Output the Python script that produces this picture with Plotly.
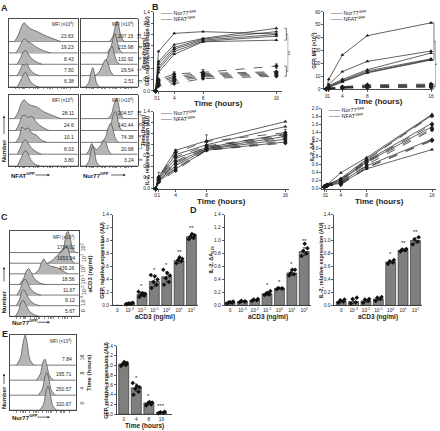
import plotly.graph_objects as go

W, H = 440, 431
FONT = "Liberation Sans, Arial, sans-serif"
INK = "#1e1e1e"
BAR_FILL = "#7f7f7f"
HIST_FILL = "#b5b5b5"

# ---------------- Panel B data ----------------
TIME = [0, 1, 4, 8, 16]
TIME_LABELS = ["0", "1", "4", "8", "16"]
TIME_POWER = 1.35  # the time axis of panel B is drawn on a power scale

GFP_REL_NUR77 = [
    [0, 0.70, 1.02, 1.05, 1.01],
    [0, 0.52, 0.82, 0.93, 1.11],
    [0, 0.48, 0.77, 0.92, 1.05],
    [0, 0.42, 0.74, 0.90, 1.00],
    [0, 0.38, 0.70, 0.88, 0.97],
    [0, 0.33, 0.65, 0.87, 0.90],
]
GFP_REL_NFAT = [
    [0, 0.20, 0.30, 0.33, 0.44],
    [0, 0.18, 0.26, 0.31, 0.34],
    [0, 0.16, 0.23, 0.29, 0.32],
    [0, 0.13, 0.20, 0.27, 0.30],
    [0, 0.11, 0.17, 0.25, 0.28],
    [0, 0.09, 0.13, 0.22, 0.26],
]
GFP_REL_NFAT_SD = [0, 0.03, 0.04, 0.05, 0.04]

GFP_MFI_NUR77 = [
    [0, 7.5, 26.5, 41.5, 51.5],
    [0, 3.5, 13.5, 21.5, 29.5],
    [0, 2.5, 7.5, 15.0, 28.0],
    [0, 2.0, 6.5, 14.0, 23.5],
    [0, 1.5, 6.0, 13.0, 23.0],
    [0, 1.0, 5.5, 12.5, 22.5],
]
GFP_MFI_NFAT = [
    [0, 0.6, 1.8, 3.2, 3.8],
    [0, 0.5, 1.5, 2.6, 3.2],
    [0, 0.4, 1.2, 2.2, 2.8],
    [0, 0.3, 1.0, 1.8, 2.2],
    [0, 0.3, 0.8, 1.4, 1.8],
    [0, 0.2, 0.6, 1.0, 1.4],
]

IL2_REL_NUR77 = [
    [0, 0.22, 0.70, 0.87, 1.22],
    [0, 0.20, 0.62, 0.80, 1.13],
    [0, 0.18, 0.55, 0.75, 1.00],
    [0, 0.16, 0.48, 0.73, 0.95],
    [0, 0.15, 0.42, 0.72, 0.90],
    [0, 0.14, 0.36, 0.70, 0.85],
]
IL2_REL_NFAT = [
    [0, 0.21, 0.66, 0.86, 1.02],
    [0, 0.19, 0.58, 0.78, 0.98],
    [0, 0.17, 0.50, 0.76, 0.96],
    [0, 0.16, 0.45, 0.74, 0.92],
    [0, 0.14, 0.38, 0.71, 0.87],
    [0, 0.12, 0.33, 0.70, 0.83],
]
IL2_REL_SD = [0, 0.09, 0.05, 0.12, 0.06]

IL2_DA_NUR77 = [
    [0.06, 0.10, 0.40, 0.78, 1.86],
    [0.05, 0.09, 0.26, 0.74, 1.84],
    [0.06, 0.11, 0.22, 0.70, 1.64],
    [0.07, 0.10, 0.20, 0.67, 1.55],
    [0.05, 0.08, 0.17, 0.57, 1.24],
    [0.04, 0.08, 0.14, 0.50, 0.98],
]
IL2_DA_NFAT = [
    [0.06, 0.10, 0.24, 0.72, 1.82],
    [0.05, 0.09, 0.20, 0.68, 1.60],
    [0.06, 0.09, 0.16, 0.65, 1.50],
    [0.05, 0.08, 0.13, 0.60, 1.47],
    [0.04, 0.07, 0.12, 0.54, 1.22],
    [0.04, 0.07, 0.10, 0.52, 1.20],
]

# ---------------- Bar panel data ----------------
ACD3_LABELS = ["0", "10<sup>-3</sup>", "10<sup>-2</sup>", "10<sup>-1</sup>",
               "10<sup>0</sup>", "10<sup>1</sup>", "10<sup>2</sup>"]

C_MEAN = [0.0, 0.03, 0.17, 0.37, 0.44, 0.69, 1.06]
C_SD = [0.0, 0.01, 0.03, 0.08, 0.08, 0.04, 0.03]
C_REPS = [[], [0.02, 0.03, 0.03, 0.04, 0.03, 0.02],
          [0.13, 0.15, 0.17, 0.18, 0.19, 0.21],
          [0.27, 0.32, 0.36, 0.40, 0.45, 0.47],
          [0.32, 0.36, 0.42, 0.46, 0.50, 0.55],
          [0.65, 0.68, 0.70, 0.72, 0.74],
          [1.02, 1.04, 1.06, 1.08, 1.10]]
C_STARS = ["", "", "*", "*", "*", "**", "**"]

D1_MEAN = [0.05, 0.06, 0.08, 0.18, 0.26, 0.50, 0.83]
D1_SD = [0.01, 0.01, 0.01, 0.03, 0.01, 0.04, 0.06]
D1_REPS = [[0.03, 0.04, 0.05, 0.06, 0.05],
           [0.05, 0.06, 0.07, 0.06],
           [0.07, 0.08, 0.09, 0.10],
           [0.16, 0.17, 0.18, 0.22, 0.19],
           [0.25, 0.26, 0.27, 0.26],
           [0.46, 0.48, 0.50, 0.55, 0.55],
           [0.76, 0.80, 0.84, 0.88, 0.95]]
D1_STARS = ["", "", "", "*", "*", "*", "**"]

D2_MEAN = [0.06, 0.06, 0.07, 0.10, 0.67, 0.85, 1.00]
D2_SD = [0.02, 0.03, 0.02, 0.02, 0.02, 0.02, 0.04]
D2_REPS = [[0.04, 0.06, 0.08, 0.09],
           [0.03, 0.05, 0.10, 0.12],
           [0.04, 0.07, 0.09, 0.10],
           [0.07, 0.10, 0.12, 0.13],
           [0.64, 0.66, 0.68, 0.70],
           [0.83, 0.85, 0.86, 0.87],
           [0.94, 0.98, 1.02, 1.05]]
D2_STARS = ["", "", "", "", "*", "**", "**"]

E_TIME_LABELS = ["0", "4", "8", "16"]
E_MEAN = [1.03, 0.54, 0.23, 0.04]
E_SD = [0.03, 0.08, 0.03, 0.01]
E_REPS = [[0.99, 1.01, 1.03, 1.05, 1.07],
          [0.40, 0.46, 0.52, 0.55, 0.58, 0.64],
          [0.18, 0.20, 0.22, 0.24, 0.25],
          [0.02, 0.03, 0.04, 0.05]]
E_STARS = ["", "*", "*", "***"]

# ---------------- Histogram data (rows top -> bottom) ----------------
# each histogram: (positions across the box 0..1, heights in row units)
A_TIME_ROWS = ["16", "8", "4", "1", "0"]
A1_MFI = ["23.83", "19.23", "8.43", "7.50", "6.38"]
A1_HIST = [
    ([0.08, 0.13, 0.18, 0.22, 0.26, 0.32, 0.40, 0.50, 0.62, 0.75], [0, 0.5, 1.3, 1.65, 1.4, 1.1, 0.9, 0.6, 0.3, 0]),
    ([0.10, 0.15, 0.20, 0.23, 0.27, 0.32, 0.40, 0.50, 0.60], [0, 0.5, 1.1, 1.25, 1.0, 0.85, 0.5, 0.2, 0]),
    ([0.12, 0.17, 0.21, 0.24, 0.28, 0.33, 0.40, 0.48], [0, 0.6, 1.1, 1.2, 0.9, 0.5, 0.2, 0]),
    ([0.12, 0.17, 0.20, 0.23, 0.26, 0.30, 0.36, 0.44], [0, 0.6, 1.0, 0.9, 1.05, 0.6, 0.2, 0]),
    ([0.12, 0.17, 0.21, 0.24, 0.27, 0.31, 0.37, 0.44], [0, 0.6, 1.1, 1.3, 1.0, 0.5, 0.15, 0]),
]
A2_MFI = ["297.15", "215.98", "132.92", "29.54", "2.51"]
A2_HIST = [
    ([0.50, 0.56, 0.61, 0.64, 0.67, 0.71, 0.76], [0, 0.4, 1.4, 1.8, 1.3, 0.4, 0]),
    ([0.46, 0.52, 0.57, 0.60, 0.63, 0.68, 0.73], [0, 0.4, 1.3, 1.7, 1.2, 0.3, 0]),
    ([0.40, 0.46, 0.51, 0.55, 0.58, 0.63, 0.68], [0, 0.5, 1.3, 1.6, 1.1, 0.3, 0]),
    ([0.25, 0.32, 0.38, 0.43, 0.47, 0.52, 0.58], [0, 0.3, 0.9, 1.4, 1.2, 0.4, 0]),
    ([0.08, 0.14, 0.18, 0.21, 0.24, 0.28, 0.33], [0, 0.4, 1.3, 1.7, 1.2, 0.3, 0]),
]
A3_MFI = ["28.11", "24.6", "10.1", "8.03", "3.80"]
A3_HIST = [
    ([0.08, 0.13, 0.18, 0.22, 0.27, 0.33, 0.40, 0.50, 0.62, 0.75], [0, 0.5, 1.3, 1.6, 1.3, 1.1, 1.0, 0.6, 0.3, 0]),
    ([0.10, 0.15, 0.19, 0.23, 0.28, 0.33, 0.40, 0.48, 0.58], [0, 0.6, 1.2, 1.3, 1.1, 1.2, 0.7, 0.3, 0]),
    ([0.10, 0.15, 0.19, 0.23, 0.28, 0.33, 0.40, 0.47, 0.55], [0, 0.5, 1.3, 1.1, 1.2, 0.8, 0.6, 0.2, 0]),
    ([0.12, 0.17, 0.21, 0.24, 0.28, 0.33, 0.40, 0.47], [0, 0.6, 1.1, 1.2, 0.9, 0.5, 0.2, 0]),
    ([0.12, 0.17, 0.21, 0.24, 0.28, 0.32, 0.38, 0.45], [0, 0.6, 1.1, 1.3, 1.0, 0.5, 0.15, 0]),
]
A4_MFI = ["204.57", "140.44", "74.38", "20.68", "3.24"]
A4_HIST = [
    ([0.48, 0.54, 0.59, 0.63, 0.66, 0.70, 0.75], [0, 0.4, 1.3, 1.7, 1.3, 0.4, 0]),
    ([0.46, 0.52, 0.57, 0.61, 0.64, 0.68, 0.73], [0, 0.4, 1.3, 1.6, 1.2, 0.3, 0]),
    ([0.36, 0.43, 0.48, 0.52, 0.56, 0.61, 0.66], [0, 0.4, 1.2, 1.6, 1.2, 0.3, 0]),
    ([0.10, 0.15, 0.19, 0.23, 0.28, 0.34, 0.40, 0.44, 0.48, 0.53], [0, 0.4, 0.9, 0.6, 0.4, 0.7, 1.1, 1.0, 0.4, 0]),
    ([0.08, 0.14, 0.18, 0.21, 0.24, 0.28, 0.33], [0, 0.4, 1.3, 1.7, 1.2, 0.3, 0]),
]
C_DOSE_ROWS = ["10<sup>2</sup>", "10<sup>1</sup>", "10<sup>0</sup>", "10<sup>-1</sup>",
               "10<sup>-2</sup>", "10<sup>-3</sup>", "0"]
C_MFI = ["1714.02", "1653.94", "439.26", "18.56", "11.67", "9.12", "5.67"]
C_HIST = [
    ([0.72, 0.78, 0.81, 0.84, 0.87, 0.91, 0.95], [0, 0.5, 1.6, 2.0, 1.5, 0.4, 0]),
    ([0.55, 0.62, 0.68, 0.73, 0.77, 0.80, 0.84, 0.88, 0.93], [0, 0.3, 0.7, 1.0, 1.2, 1.6, 1.4, 0.5, 0]),
    ([0.36, 0.42, 0.46, 0.49, 0.53, 0.60, 0.68, 0.76, 0.84], [0, 0.4, 1.1, 1.4, 1.0, 0.7, 0.6, 0.3, 0]),
    ([0.14, 0.20, 0.24, 0.27, 0.31, 0.36, 0.43, 0.50], [0, 0.6, 1.3, 1.5, 1.1, 0.5, 0.15, 0]),
    ([0.10, 0.15, 0.19, 0.22, 0.26, 0.31, 0.38, 0.45], [0, 0.6, 1.3, 1.5, 1.1, 0.5, 0.15, 0]),
    ([0.09, 0.14, 0.17, 0.20, 0.24, 0.29, 0.36, 0.43], [0, 0.6, 1.3, 1.5, 1.1, 0.5, 0.15, 0]),
    ([0.08, 0.13, 0.16, 0.19, 0.23, 0.28, 0.35, 0.42], [0, 0.6, 1.3, 1.5, 1.1, 0.5, 0.15, 0]),
]
E_TIME_ROWS = ["16", "8", "4", "0"]
E_MFI = ["7.84", "195.71", "250.57", "320.67"]
E_HIST = [
    ([0.10, 0.16, 0.20, 0.23, 0.26, 0.30, 0.36], [0, 0.5, 1.5, 2.0, 1.5, 0.4, 0]),
    ([0.40, 0.46, 0.50, 0.53, 0.56, 0.60, 0.66], [0, 0.4, 1.2, 1.4, 1.0, 0.3, 0]),
    ([0.43, 0.49, 0.53, 0.56, 0.59, 0.63, 0.69], [0, 0.4, 1.2, 1.5, 1.1, 0.3, 0]),
    ([0.45, 0.51, 0.55, 0.58, 0.61, 0.65, 0.71], [0, 0.4, 1.3, 1.6, 1.1, 0.3, 0]),
]

# ---------------- style constants ----------------
JITTER = [-0.22, 0.18, -0.08, 0.26, 0.04, -0.28, 0.12]
HIST_TICKS = [0.10, 0.16, 0.19, 0.21, 0.23, 0.30, 0.36, 0.39, 0.41, 0.43, 0.50, 0.56, 0.59, 0.61, 0.63,
              0.70, 0.76, 0.79, 0.81, 0.83, 0.90]
TICK_SIZE = 4.8

fig = go.Figure()
axes_layout = {}
annotations = []
shapes = []
n_axes = 0


def px(xp):
    return xp / W


def py(yp):
    return 1 - yp / H


def font(size):
    return dict(family=FONT, size=size, color=INK)


def add_axes(x0, x1, y0, y1, xa, ya):
    global n_axes
    n_axes += 1
    s = "" if n_axes == 1 else str(n_axes)
    xa = dict(xa)
    ya = dict(ya)
    xa.update(domain=[x0 / W, x1 / W], anchor="y" + s)
    ya.update(domain=[1 - y1 / H, 1 - y0 / H], anchor="x" + s)
    axes_layout["xaxis" + s] = xa
    axes_layout["yaxis" + s] = ya
    return "x" + s, "y" + s


def line_axis(**kw):
    d = dict(showline=True, linecolor=INK, linewidth=0.8, ticks="outside", ticklen=2,
             tickwidth=0.7, tickcolor=INK, showgrid=False, zeroline=False, tickangle=0,
             tickfont=font(TICK_SIZE), fixedrange=True)
    d.update(kw)
    return d


def text(xp, yp, s, size, angle=0, xanchor="center", yanchor="middle", bold=False, xref="paper", yref="paper"):
    annotations.append(dict(
        x=xp, y=yp, xref=xref, yref=yref, text=("<b>%s</b>" % s) if bold else s,
        showarrow=False, textangle=angle, xanchor=xanchor, yanchor=yanchor,
        font=font(size)))


def arrow(x_head, y_head, ax, ay):
    annotations.append(dict(x=px(x_head), y=py(y_head), xref="paper", yref="paper", text="",
                            showarrow=True, ax=ax, ay=ay, arrowhead=2, arrowsize=0.7,
                            arrowwidth=0.7, arrowcolor=INK))


def tpos(t):
    return t ** TIME_POWER


def b_chart(x_axis, x_t0, x_t16, x_end, y_top, y_bot, ymax, dtick, yfmt, ytitle, ytitle_x,
            nur, nfat, sd=None):
    scale = (x_t16 - x_t0) / tpos(16)
    xr = [-(x_t0 - x_axis) / scale, tpos(16) + (x_end - x_t16) / scale]
    xa = line_axis(range=xr, tickvals=[tpos(t) for t in TIME], ticktext=TIME_LABELS)
    ya = line_axis(range=[0, ymax], dtick=dtick, tick0=0, tickformat=yfmt)
    xr_, yr_ = add_axes(x_axis, x_end, y_top, y_bot, xa, ya)
    xs = [tpos(t) for t in TIME]
    for i, vals in enumerate(nfat):
        err = None
        if sd is not None and i == 0:
            err = dict(type="data", array=sd, thickness=0.6, width=1.5, color=INK)
        fig.add_trace(go.Scatter(x=xs, y=vals, xaxis=xr_, yaxis=yr_, mode="lines+markers",
                                 line=dict(color=INK, width=0.7, dash="dash"),
                                 marker=dict(symbol="diamond", size=3.5, color=INK),
                                 error_y=err, cliponaxis=False, showlegend=False, hoverinfo="skip"))
    for vals in nur:
        fig.add_trace(go.Scatter(x=xs, y=vals, xaxis=xr_, yaxis=yr_, mode="lines+markers",
                                 line=dict(color=INK, width=0.7),
                                 marker=dict(symbol="triangle-up", size=3.5, color=INK),
                                 cliponaxis=False, showlegend=False, hoverinfo="skip"))
    text(px((x_axis + x_end) / 2), py(y_bot + 12.5), "Time (hours)", 8, bold=True)
    text(px(ytitle_x), py((y_top + y_bot) / 2), ytitle, 5, angle=-90, bold=True)
    text(px(x_axis + 5), py(y_top + 1), "—— Nur77<sup>GFP</sup>", 5.5, xanchor="left")
    text(px(x_axis + 5), py(y_top + 7), "—— NFAT<sup>GFP</sup>", 5.5, xanchor="left")
    return xr_, yr_


def bar_chart(x_axis, x_c0, step, x_end, y_top, y_bot, labels, mean, sd, reps, stars, xtitle, ytitle, ytitle_x):
    n = len(mean)
    xr = [-(x_c0 - x_axis) / step, (x_end - x_c0) / step]
    xa = line_axis(range=xr, tickvals=list(range(n)), ticktext=labels, ticks="")
    ya = line_axis(range=[0, 1.4], dtick=0.2, tick0=0, tickformat=".1f")
    xr_, yr_ = add_axes(x_axis, x_end, y_top, y_bot, xa, ya)
    fig.add_trace(go.Bar(x=list(range(n)), y=mean, width=0.8, xaxis=xr_, yaxis=yr_,
                         marker=dict(color=BAR_FILL, line=dict(color=INK, width=0.6)),
                         error_y=dict(type="data", array=sd, thickness=0.6, width=1.5, color=INK),
                         showlegend=False, hoverinfo="skip"))
    for i, vals in enumerate(reps):
        if not vals:
            continue
        fig.add_trace(go.Scatter(x=[i + JITTER[k % len(JITTER)] for k in range(len(vals))], y=vals,
                                 xaxis=xr_, yaxis=yr_, mode="markers",
                                 marker=dict(symbol="diamond", size=3.5, color="#111111"),
                                 cliponaxis=False, showlegend=False, hoverinfo="skip"))
    for i, s in enumerate(stars):
        if s:
            text(i, mean[i] + sd[i] + 0.02, s, 6, xref=xr_, yref=yr_, yanchor="bottom")
    text(px((x_axis + x_end) / 2), py(y_bot + 11.5), xtitle, 6.5, bold=True)
    text(px(ytitle_x), py((y_top + y_bot) / 2), ytitle, 5.5, angle=-90, bold=True)


def hist_box(x0, x1, y0, y1, hists, mfi, top, row_labels=None, row_x=None, title=None, title_x=None,
             label_size=5.5, title_size=6):
    xa = dict(range=[0, 1], showline=True, mirror=True, linecolor=INK, linewidth=0.8, ticks="outside",
              ticklen=1.5, tickwidth=0.5, tickcolor=INK, tickvals=HIST_TICKS, showticklabels=False,
              showgrid=False, zeroline=False, fixedrange=True)
    ya = dict(range=[0, top], showline=True, mirror=True, linecolor=INK, linewidth=0.8, ticks="",
              showticklabels=False, showgrid=False, zeroline=False, fixedrange=True)
    xr_, yr_ = add_axes(x0, x1, y0, y1, xa, ya)
    n = len(hists)
    for i, ((xs, hs), lab) in enumerate(zip(hists, mfi)):
        base = n - 1 - i
        fig.add_trace(go.Scatter(x=[0, 1], y=[base, base], xaxis=xr_, yaxis=yr_, mode="lines",
                                 line=dict(color=INK, width=0.6), showlegend=False, hoverinfo="skip"))
        fig.add_trace(go.Scatter(x=xs, y=[base + h for h in hs], xaxis=xr_, yaxis=yr_, mode="lines",
                                 fill="toself", fillcolor=HIST_FILL,
                                 line=dict(color="#333333", width=0.6, shape="spline", smoothing=0.9),
                                 showlegend=False, hoverinfo="skip"))
        text(0.97, base + 0.05, lab, 5, xref=xr_, yref=yr_, xanchor="right", yanchor="bottom")
        if row_labels is not None:
            text(px(row_x), base + 0.5, row_labels[i], label_size, angle=-90, xref="paper", yref=yr_)
    text(0.97, top - 0.05, "MFI (×10<sup>3</sup>)", 4.5, xref=xr_, yref=yr_, xanchor="right", yanchor="top")
    if title is not None:
        text(px(title_x), py((y0 + y1) / 2), title, title_size, angle=-90, bold=True)


def bracket(yref, x_br, hi1, lo1, hi2, lo2, star):
    for (a, b) in [(hi1, lo1), (hi2, lo2)]:
        shapes.append(dict(type="path", xref="paper", yref=yref,
                           path="M %f,%f L %f,%f L %f,%f L %f,%f" % (
                               px(x_br - 2), a, px(x_br), a, px(x_br), b, px(x_br - 2), b),
                           line=dict(color=INK, width=0.6)))
    m1 = (hi1 + lo1) / 2
    m2 = (hi2 + lo2) / 2
    for m in (m1, m2):
        shapes.append(dict(type="line", xref="paper", yref=yref, x0=px(x_br), x1=px(x_br + 1.5),
                           y0=m, y1=m, line=dict(color=INK, width=0.6)))
    shapes.append(dict(type="line", xref="paper", yref=yref, x0=px(x_br + 1.5), x1=px(x_br + 1.5),
                       y0=m1, y1=m2, line=dict(color="#888888", width=0.6)))
    text(px(x_br + 3.2), (m1 + m2) / 2, star, 5.5, angle=-90, xref="paper", yref=yref)


# ---------------- Panel A ----------------
hist_box(9, 78, 17, 86, A1_HIST, A1_MFI, 6.0)
hist_box(81, 138, 17, 86, A2_HIST, A2_MFI, 6.0, A_TIME_ROWS, 140.5, "Time (hours)", 144.2, 4.8, 5.2)
hist_box(9, 78, 94, 166, A3_HIST, A3_MFI, 6.0)
hist_box(81, 138, 94, 166, A4_HIST, A4_MFI, 6.0, A_TIME_ROWS, 140.5, "Time (hours)", 144.2, 4.8, 5.2)
text(px(4), py(150), "Number", 6, angle=-90, bold=True)
arrow(4, 115, 0, 20)
text(px(9), py(175), "NFAT<sup>GFP</sup>", 6, xanchor="left", bold=True)
arrow(50, 175, -16, 0)
text(px(81), py(175), "Nur77<sup>GFP</sup>", 6, xanchor="left", bold=True)
arrow(126, 175, -16, 0)

# ---------------- Panel B ----------------
_, yb1 = b_chart(154, 156, 277, 283, 10, 90, 1.4, 0.2, ".1f", "GFP, relative expression (AU)", 148,
                 GFP_REL_NUR77, GFP_REL_NFAT, GFP_REL_NFAT_SD)
_, yb2 = b_chart(325, 327, 432, 434, 10, 88, 60, 10, "d", "GFP, MFI (×10<sup>3</sup>)", 315,
                 GFP_MFI_NUR77, GFP_MFI_NFAT)
b_chart(154, 156, 286, 290, 111, 189, 1.4, 0.2, ".1f", "IL-2, relative expression (AU)", 148,
        IL2_REL_NUR77, IL2_REL_NFAT, IL2_REL_SD)
b_chart(323, 325, 433, 437, 108, 189, 2.0, 0.2, ".1f", "IL-2, ΔA<sub>570</sub>", 313,
        IL2_DA_NUR77, IL2_DA_NFAT)

bracket(yb1, 287, 1.11, 0.90, 0.44, 0.26, "**")
bracket(yb2, 435, 51.5, 22.5, 3.8, 0.2, "*")

# ---------------- Panel C ----------------
hist_box(10, 79, 232, 318, C_HIST, C_MFI, 8.0, C_DOSE_ROWS, 83.5, "aCD3 (ng/ml)", 90)
text(px(4), py(303), "Number", 6, angle=-90, bold=True)
arrow(4, 268, 0, 16)
text(px(10), py(324), "Nur77<sup>GFP</sup>", 6, xanchor="left", bold=True)
arrow(50, 324, -14, 0)
bar_chart(113, 117.5, 12.4, 198, 215, 307, ACD3_LABELS, C_MEAN, C_SD, C_REPS, C_STARS,
          "aCD3 (ng/ml)", "GFP, relative expression (AU)", 102)

# ---------------- Panel D ----------------
bar_chart(225, 230.5, 12.4, 312, 215, 307, ACD3_LABELS, D1_MEAN, D1_SD, D1_REPS, D1_STARS,
          "aCD3 (ng/ml)", "IL-2, ΔA<sub>570</sub>", 212)
bar_chart(335, 342, 12.4, 423, 215, 307, ACD3_LABELS, D2_MEAN, D2_SD, D2_REPS, D2_STARS,
          "aCD3 (ng/ml)", "IL-2, relative expression (AU)", 322)

# ---------------- Panel E ----------------
hist_box(10, 76, 337, 413, E_HIST, E_MFI, 5.0, E_TIME_ROWS, 82, "Time (hours)", 88.5)
text(px(4), py(400), "Number", 6, angle=-90, bold=True)
arrow(4, 376, 0, 12)
text(px(10), py(420), "Nur77<sup>GFP</sup>", 6, xanchor="left", bold=True)
arrow(50, 420, -14, 0)
bar_chart(117, 124, 12.6, 172, 348, 417, E_TIME_LABELS, E_MEAN, E_SD, E_REPS, E_STARS,
          "Time (hours)", "GFP, relative expression (AU)", 106)

# ---------------- panel letters ----------------
for letter, xl, yl in [("A", 5, 6), ("B", 156, 5), ("C", 5, 218), ("D", 194, 210), ("E", 5, 336)]:
    text(px(xl), py(yl), letter, 9, bold=True)

fig.update_layout(width=W, height=H, margin=dict(l=0, r=0, t=0, b=0),
                  paper_bgcolor="white", plot_bgcolor="rgba(0,0,0,0)",
                  font=dict(family=FONT, color=INK), showlegend=False,
                  annotations=annotations, shapes=shapes, **axes_layout)

fig.write_html("out.html", config=dict(displayModeBar=False, staticPlot=True),
               post_script="document.body.style.margin='0';document.body.style.overflow='hidden';")
